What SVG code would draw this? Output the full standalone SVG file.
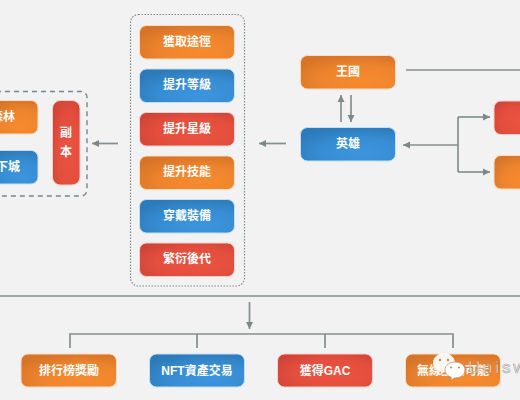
<svg xmlns="http://www.w3.org/2000/svg" width="520" height="400" viewBox="0 0 520 400">
<style>
text{font-family:"Liberation Sans","Noto Sans CJK TC",sans-serif;fill:#fff;font-size:12px;font-weight:700;text-anchor:middle;dominant-baseline:central}
.o{fill:url(#go);stroke:#fbdcc0;stroke-width:1}
.b{fill:url(#gb);stroke:#c4dff3;stroke-width:1}
.r{fill:url(#gr);stroke:#f8cfc8;stroke-width:1}
.l{fill:none;stroke:#84908f;stroke-width:1.700}
.a{marker-end:url(#ah)}
</style>
<defs>
<radialGradient id="go" cx=".65" cy=".75" r=".8"><stop offset="0" stop-color="#f68a2e"/><stop offset=".55" stop-color="#ee842d"/><stop offset="1" stop-color="#d67428"/></radialGradient>
<radialGradient id="gb" cx=".65" cy=".75" r=".8"><stop offset="0" stop-color="#3c95de"/><stop offset=".55" stop-color="#378dd3"/><stop offset="1" stop-color="#2c7ab9"/></radialGradient>
<radialGradient id="gr" cx=".6" cy=".6" r=".8"><stop offset="0" stop-color="#ec5340"/><stop offset=".55" stop-color="#e34e3d"/><stop offset="1" stop-color="#ca4135"/></radialGradient>
<marker id="ah" markerWidth="8" markerHeight="8" refX="7" refY="4" orient="auto" markerUnits="userSpaceOnUse"><path d="M0 .5L7 4L0 7.500z" fill="#7d8988"/></marker>
</defs>
<rect width="520" height="400" fill="#f2f2f2"/>
<g id="connectors">
<path class="l a" d="M118 143.500H92"/>
<path class="l a" d="M286 143.500H259"/>
<path class="l a" d="M341 122V95"/>
<path class="l a" d="M351 95V122"/>
<path class="l" d="M406 70H520"/>
<path class="l a" d="M458 145H403"/>
<path class="l" d="M458 117V172"/>
<path class="l a" d="M458 117H490"/>
<path class="l a" d="M458 172H490"/>
<path class="l" d="M0 296H520"/>
<path class="l a" d="M249.500 302V329"/>
<path class="l" d="M70 348V334H453V348M197 334V348M325 334V348"/>
</g>
<g id="group-dungeon"><path d="M-4 91.500H81a6 6 0 0 1 6 6V190a6 6 0 0 1-6 6H-4" fill="none" stroke="#78858a" stroke-width="1.400" stroke-dasharray="5 4"/></g>
<g id="group-actions"><rect x="130.500" y="14.500" width="114" height="271.500" rx="8" fill="none" stroke="#808a8c" stroke-width="1.200" stroke-dasharray="1.500 1.500"/></g>
<g id="forest"><rect class="o" x="-10" y="100.500" width="48" height="33.500" rx="7"/><text x="3" y="116.500">森林</text></g>
<g id="dungeon-town"><rect class="b" x="-10" y="150.500" width="48" height="33.500" rx="7"/><text x="8" y="166.500">下城</text></g>
<g id="dungeon"><rect class="r" x="52.500" y="100.500" width="27.500" height="84.500" rx="8"/><text x="66" y="133">副</text><text x="66" y="152">本</text></g>
<g id="n1"><rect class="o" x="139.500" y="25.500" width="95" height="33.500" rx="7"/><text x="187" y="41.500">獲取途徑</text></g>
<g id="n2"><rect class="b" x="139.500" y="69" width="95" height="33.500" rx="7"/><text x="187" y="85">提升等級</text></g>
<g id="n3"><rect class="r" x="139.500" y="112.500" width="95" height="33.500" rx="7"/><text x="187" y="128.500">提升星級</text></g>
<g id="n4"><rect class="o" x="139.500" y="156" width="95" height="33.500" rx="7"/><text x="187" y="172">提升技能</text></g>
<g id="n5"><rect class="b" x="139.500" y="199.500" width="95" height="33.500" rx="7"/><text x="187" y="215.500">穿戴裝備</text></g>
<g id="n6"><rect class="r" x="139.500" y="243" width="95" height="33.500" rx="7"/><text x="187" y="259">繁衍後代</text></g>
<g id="kingdom"><rect class="o" x="300.500" y="55.500" width="95" height="33.500" rx="7"/><text x="348" y="72">王國</text></g>
<g id="hero"><rect class="b" x="300.500" y="127.500" width="95" height="33.500" rx="7"/><text x="348" y="144">英雄</text></g>
<g id="right-red"><rect class="r" x="494" y="101" width="40" height="33.500" rx="7"/></g>
<g id="right-orange"><rect class="o" x="494" y="155.500" width="40" height="33.500" rx="7"/></g>
<g id="rank"><rect class="o" x="21" y="354" width="95.500" height="33" rx="7"/><text x="69" y="370.500">排行榜獎勵</text></g>
<g id="nft"><rect class="b" x="149.500" y="354" width="95" height="33" rx="7"/><text x="197" y="370.500">NFT資產交易</text></g>
<g id="gac"><rect class="r" x="277.500" y="354" width="95" height="33" rx="7"/><text x="325" y="370.500">獲得GAC</text></g>
<g id="wireless"><rect class="o" x="405.500" y="354" width="95" height="33" rx="7"/><text x="453" y="370.500">無線互動可能</text></g>
<g id="watermark">
<path d="M444 353c6 0 11 4.500 11 10s-5 9-11 9l-3.500 3 .3-3.500c-4.300-1.400-7.800-4.700-7.800-8.500 0-5.500 5-10 11-10z" fill="#fff" fill-opacity=".92"/>
<circle cx="440" cy="360" r="1.200" fill="#b98a63"/><circle cx="448" cy="360" r="1.200" fill="#b98a63"/>
<path d="M455 362c5.500 0 10 3.500 10 8s-4.500 8-10 8h-1l-3 2.500 .3-3.200c-3.700-1.300-6.300-4-6.300-7.300 0-4.500 4.500-8 10-8z" fill="#fff" stroke="#b9926f" stroke-width=".8"/>
<circle cx="451" cy="367.500" r="1" fill="#b98a63"/><circle cx="459" cy="367.500" r="1" fill="#b98a63"/>
<text x="468" y="367" style="font-size:17px;font-weight:400;text-anchor:start;letter-spacing:2.800px;fill:#fff;fill-opacity:.7;stroke:#7e7e7e;stroke-opacity:.75;stroke-width:.6">Uniswa</text>
</g>
</svg>
